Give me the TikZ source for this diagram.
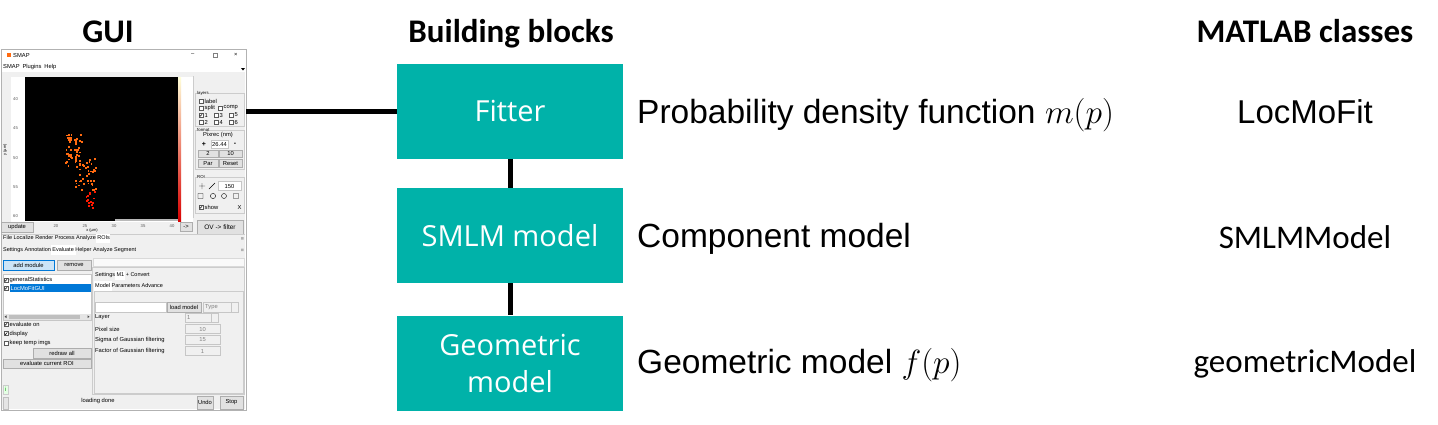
\RequirePackage{fix-cm}
\documentclass[tikz,border=0pt]{standalone}
\usepackage{fontspec}
\setmainfont{Liberation Sans}
\newfontfamily\calibri{Carlito}
\newfontfamily\segoe{Open Sans}
\definecolor{block}{HTML}{00B2A9}
\definecolor{panel}{HTML}{F0F0F0}
\definecolor{btn}{HTML}{E1E1E1}
\definecolor{btnline}{HTML}{ADADAD}
\definecolor{sel}{HTML}{0078D7}
\definecolor{selfill}{HTML}{CCE4F7}
\definecolor{spot}{HTML}{FF6A10}
\newcommand\gfont{\fontsize{5.8}{6}\selectfont}

\begin{document}
\begin{tikzpicture}[x=1pt,y=-1pt,
  head/.style={font=\calibri\bfseries\fontsize{33}{36}\selectfont,anchor=base,inner sep=0pt},
  blockbox/.style={fill=block,text=white,minimum width=226pt,minimum height=95pt,inner sep=0pt,align=center,font=\segoe\fontsize{29}{37}\selectfont},
  desc/.style={anchor=base west,inner sep=0pt,font=\fontsize{33.5}{40}\selectfont},
  cls/.style={anchor=base,inner sep=0pt,font=\calibri\fontsize{33}{40}\selectfont},
  link/.style={line width=5pt},
  gt/.style={font=\gfont,inner sep=0pt,anchor=west},
  gbtn/.style={draw=btnline,fill=btn},
  gfield/.style={draw=gray!45,fill=white},
  cbox/.style={draw=gray!70!black,fill=white,line width=.4pt}]
  \useasboundingbox (0,0) rectangle (1438,424);
  \node[head] (hgui) at (108,42) {GUI};
  \node[head] (hblk) at (511,42) {Building blocks};
  \node[head] (hcls) at (1305,42) {MATLAB classes};

  % screenshot of the GUI
  \node[draw=gray!60,fill=white,minimum width=245pt,minimum height=361pt,inner sep=0pt] (gui) at (123.5,229.5) {};
  \fill[panel] (2,72) rectangle (245,409);
  \fill[spot] (6.5,52.5) rectangle (11,57);
  \node[gt] (title) at (13,55.5) {SMAP};
  \node[gt] (wmin) at (191,55) {–};
  \draw[gray] (213,53) rectangle (217,57);
  \node[gt] (wcls) at (234,55) {×};
  \node[gt] (menu) at (3,67) {SMAP\enspace Plugins\enspace Help};
  \fill[black] (241,68) -- (245,68) -- (243,70.5) -- cycle;
  \fill[white] (11,77) rectangle (193,222);
  \fill[black] (25,77) rectangle (178,221);
  \shade[top color=yellow!15,middle color=orange,bottom color=red!85!black] (178,77) rectangle (181,221);
  \fill[gray!55] (115,219) rectangle (178,221);
  \foreach \v [count=\k] in {40,45,50,55,60}
    \node[gt,font=\fontsize{4.2}{5}\selectfont,text=gray!70!black] (yt\k) at (13,70+29.2*\k) {\v};
  \foreach \v [count=\k] in {15,20,...,40}
    \node[gt,anchor=center,font=\fontsize{4.2}{5}\selectfont,text=gray!70!black] (xt\k) at (-2+29*\k,226) {\v};
  \node[gt,anchor=center,rotate=90,font=\fontsize{4}{5}\selectfont] (ylab) at (5,150) {y (µm)};
  \node[gt,anchor=center,font=\fontsize{4}{5}\selectfont] (xlab) at (92,230.5) {x (µm)};
  \pgfmathsetseed{11}
  \foreach \i in {1,...,50} {\pgfmathsetmacro\px{65+17*rnd}\pgfmathsetmacro\py{132+36*rnd}
    \fill[spot] (\px,\py) rectangle ++(1.8,1.8);}
  \foreach \i in {1,...,42} {\pgfmathsetmacro\px{75+21*rnd}\pgfmathsetmacro\py{158+32*rnd}
    \fill[spot] (\px,\py) rectangle ++(1.8,1.8);}
  \foreach \i in {1,...,14} {\pgfmathsetmacro\px{85+9*rnd}\pgfmathsetmacro\py{190+18*rnd}
    \fill[red!80!orange] (\px,\py) rectangle ++(1.8,1.8);}
  \draw[gbtn] (1,222) rectangle (33,232) node[midway,font=\gfont] (upd) {update};
  \draw[gbtn] (180,222) rectangle (192,231) node[midway,font=\gfont] (fwd) {->};
  \draw[gray!40] (193,76) -- (193,218);
  \draw[gray!40] (195,93) rectangle (244,126) (195,130) rectangle (244,169) (195,177) rectangle (244,213);
  \node[gt,fill=panel,font=\fontsize{4.3}{5}\selectfont] (glay) at (197,93) {layers};
  \node[gt,fill=panel,font=\fontsize{4.3}{5}\selectfont] (gfmt) at (197,130) {format};
  \node[gt,fill=panel,font=\fontsize{4.3}{5}\selectfont] (groi) at (197,177) {ROI};
  \draw[gfield] (3,274) rectangle (91,320);
  \fill[sel] (9.5,284) rectangle (91,292);
  \foreach \x/\y/\t/\c [count=\k] in {199/101/label/0,199/108/split/0,218/108/comp/0,199/115/1/1,214/115/3/0,229/115/5/0,
      199/122/2/0,214/122/4/0,229/122/6/0,199/207/show/1,4/280/generalStatistics/1,4/324/evaluate on/1,4/333.5/display/1,4/343/keep temp imgs/0} {
    \draw[cbox] (\x,\y-2) rectangle ++(4,4);
    \ifnum\c=1 \draw[line width=.4pt] (\x+.8,\y) -- (\x+1.7,\y+1.2) -- (\x+3.3,\y-1.3); \fi
    \node[gt] (cb\k) at (\x+5.5,\y) {\t};}
  \draw[cbox] (4,286) rectangle ++(4,4);
  \draw[line width=.4pt] (4.8,288) -- (5.7,289.2) -- (7.3,286.7);
  \node[gt,text=white] (lmf) at (10.5,288) {LocMoFitGUI};
  \fill[gray!20] (3.5,314) rectangle (90.5,319.5);
  \fill[gray!50] (9,315) rectangle (80,318.5);
  \fill[gray!60!black] (4.5,316.7) -- (6.5,315.3) -- (6.5,318.1) -- cycle (89.5,316.7) -- (87.5,315.3) -- (87.5,318.1) -- cycle;
  \node[gt,anchor=center] (pix) at (218,135) {Pixrec (nm)};
  \node[gt,anchor=center,font=\bfseries\fontsize{7}{7}\selectfont] (plus) at (204,144) {+};
  \draw[gfield] (211,140) rectangle (228,148) node[midway,font=\gfont] (pixv) {26.44};
  \node[gt,anchor=center,font=\bfseries\fontsize{7}{7}\selectfont] (minus) at (235,144) {-};
  \draw[gbtn] (198,150) rectangle (218,157.5) node[midway,font=\gfont] (btwo) {2};
  \draw[gbtn] (219,150) rectangle (242,157.5) node[midway,font=\gfont] (bten) {10};
  \draw[gbtn] (198,159) rectangle (218,167.5) node[midway,font=\gfont] (bpar) {Par};
  \draw[gbtn] (219,159) rectangle (242,167.5) node[midway,font=\gfont] (brst) {Reset};
  \draw (199,186) -- (205,186) (202,183) -- (202,189) (209,189) -- (215,183);
  \draw[gfield] (218,181.5) rectangle (241,190.5) node[midway,font=\gfont] (roiw) {150};
  \draw (198,193.5) rectangle (203,198.5) (213,196) circle (2.6) (224,196) circle (2.5) (233.5,193.5) rectangle (238.5,198.5);
  \node[gt,anchor=center] (roix) at (239.5,207) {X};
  \draw[gbtn] (197,220) rectangle (243,234) node[midway,font=\fontsize{6.5}{7}\selectfont] (ov) {OV -> filter};
  \draw[gray!40] (2,234) -- (245,234);
  \fill[white] (96,234) rectangle (110,243);
  \node[gt,font=\fontsize{5.5}{6}\selectfont] (tabsa) at (3,238.5) {File Localize Render Process Analyze ROIs};
  \fill[white] (51,245) rectangle (75.5,255);
  \node[gt,font=\fontsize{5.5}{6}\selectfont] (tabsb) at (3,250) {Settings Annotation Evaluate Helper Analyze Segment};
  \fill[gray!60] (241,237) rectangle (243.5,239.5) (241,248.5) rectangle (243.5,251);
  \draw[draw=sel,fill=selfill] (3,260) rectangle (54,270) node[midway,font=\gfont] (addm) {add module};
  \draw[gbtn] (57,260) rectangle (91,270) node[midway,font=\gfont] (rmv) {remove};
  \draw[gray!30,fill=gray!5] (93,258) rectangle (244,266);
  \draw[gray!40] (92,267) rectangle (244,394);
  \fill[white] (115,270.5) rectangle (125,280);
  \node[gt,font=\fontsize{5.5}{6}\selectfont] (stab) at (95,275) {Settings M1 + Convert};
  \fill[white] (94,281) rectangle (112,291);
  \node[gt,font=\fontsize{5.5}{6}\selectfont] (mtab) at (95,286) {Model Parameters Advance};
  \draw[gray!40] (94,291) rectangle (243,393);
  \draw[gfield] (95,302) rectangle (166,312);
  \draw[gbtn] (167,302) rectangle (201,312) node[midway,font=\gfont] (ldm) {load model};
  \draw[gfield,fill=panel] (203,302) rectangle (238,312) (231,302) -- (231,312);
  \node[gt,text=gray] (typ) at (205,307) {Type};
  \node[gt] (lay) at (95,317) {Layer};
  \draw[gfield,fill=panel] (185,313) rectangle (218,322) (211,313) -- (211,322);
  \node[gt,text=gray] (layv) at (187,317.5) {1};
  \foreach \t/\v/\y [count=\k] in {Pixel size/10/329,Sigma of Gaussian filtering/15/340,Factor of Gaussian filtering/1/351} {
    \node[gt] (par\k) at (95,\y) {\t};
    \draw[gfield,fill=panel] (185,\y-4.5) rectangle (220,\y+4.5) node[midway,font=\gfont,text=gray] (val\k) {\v};}
  \draw[gbtn] (33,348) rectangle (91,358) node[midway,font=\gfont] (redraw) {redraw all};
  \draw[gbtn] (3,359) rectangle (91,368) node[midway,font=\gfont] (evroi) {evaluate current ROI};
  \draw[gray!40,fill=green!10] (3,385) rectangle (8,394);
  \node[font=\gfont,text=green!60!black,inner sep=0pt] (info) at (5.5,389.5) {i};
  \draw[gray!50,fill=gray!20] (3,397) rectangle (8,409);
  \node[font=\gfont,inner sep=0pt] (stat) at (98,401) {loading done};
  \draw[gbtn] (197,396) rectangle (213,409) node[midway,font=\gfont] (undo) {Undo};
  \draw[gbtn] (220,396) rectangle (243,409) node[midway,font=\gfont] (stop) {Stop};

  \node[blockbox] (fitter) at (510,111) {Fitter};
  \node[blockbox] (smlm) at (510,235.5) {SMLM model};
  \node[blockbox] (geom) at (510,363) {Geometric\\model};
  \draw[link] (gui.east |- fitter.west) -- (fitter.west);
  \draw[link] (fitter.south) -- (smlm.north);
  \draw[link] (smlm.south) -- (geom.north);
  \node[desc] (dfit) at (637,123) {Probability density function $m(p)$};
  \node[desc] (dsmlm) at (637,247) {Component model};
  \node[desc] (dgeo) at (637,373) {Geometric model $f(p)$};
  \node[cls,font=\fontsize{33}{40}\selectfont] (cfit) at (1305,123) {LocMoFit};
  \node[cls] (csmlm) at (1305,248) {SMLMModel};
  \node[cls] (cgeo) at (1305,372) {geometricModel};
\end{tikzpicture}
\end{document}
